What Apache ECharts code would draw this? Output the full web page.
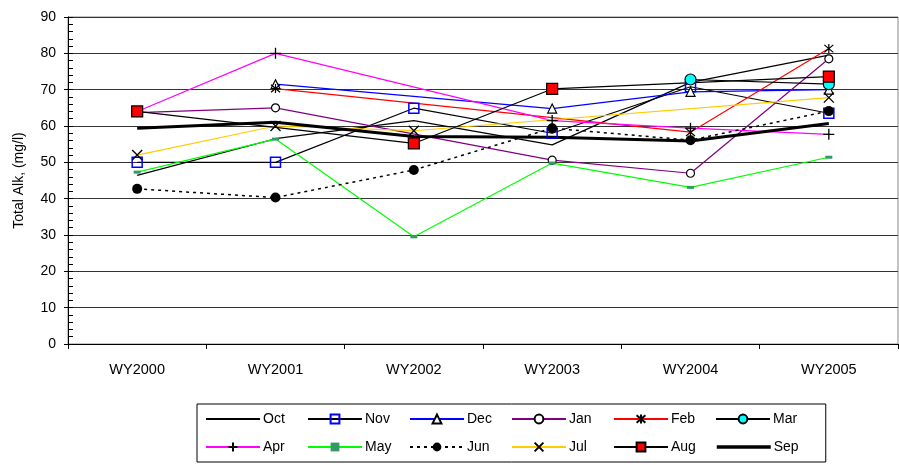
<!DOCTYPE html>
<html>
<head>
<meta charset="utf-8">
<script src="https://cdn.jsdelivr.net/npm/echarts@6/dist/echarts.min.js"></script>
<style>html,body{margin:0;padding:0;background:#fff}#c{width:899px;height:465px}</style>
</head>
<body>
<div id="c"></div>
<script>
const categories = ['WY2000','WY2001','WY2002','WY2003','WY2004','WY2005'];
const yTicks = [0,10,20,30,40,50,60,70,80,90];
const octVals = [46.4, 56.5, 61.5, 54.8, 72.0, 79.5];
const novVals = [50.0, 50.0, 64.9, 58.0, 70.8, 63.5];
const decVals = [null, 71.5, null, 64.8, 69.4, 70.0];
const janVals = [63.7, 65.0, null, 50.6, 47.0, 78.5];
const febVals = [null, 70.3, null, null, 58.3, 81.3];
const marVals = [null, null, null, null, 72.8, 71.5];
const aprVals = [64.0, 80.0, null, 61.5, 59.4, 57.7];
const mayVals = [47.3, 56.4, 29.5, 49.8, 43.1, 51.4];
const junVals = [42.7, 40.3, 47.9, 59.4, 56.1, 64.1];
const julVals = [52.0, 60.0, 58.7, null, null, 67.8];
const augVals = [64.0, null, 55.2, 70.2, null, 73.6];
const sepVals = [59.4, 61.0, 57.1, 56.9, 55.9, 60.7];
const monthNames = ['Oct','Nov','Dec','Jan','Feb','Mar','Apr','May','Jun','Jul','Aug','Sep'];

const FONT = 'Liberation Sans, Arial, sans-serif';
const PLUS = 'path://M5,0L5,10M0,5L10,5';
const CROSS = 'path://M0,0L10,10M10,0L0,10';
const STAR = 'path://M0,0L10,10M10,0L0,10M5,-1L5,11';

function mk(name, data, lineColor, opts) {
  return Object.assign({
    name: name, type: 'line', data: data, connectNulls: true,
    animation: false,
    lineStyle: {color: lineColor, width: 1.2},
    symbol: 'none', showSymbol: true,
    emphasis: {disabled: true}
  }, opts);
}

const series = [
  mk('Oct', octVals, '#000', {symbol: 'none', itemStyle: {color: '#000'}}),
  mk('Nov', novVals, '#000', {symbol: 'rect', symbolSize: 10, itemStyle: {color: 'rgba(255,255,255,0)', borderColor: '#0000FF', borderWidth: 1.5}}),
  mk('Dec', decVals, '#0000FF', {symbol: 'triangle', symbolSize: 9, itemStyle: {color: '#fff', borderColor: '#000', borderWidth: 1.2}}),
  mk('Jan', janVals, '#800080', {symbol: 'circle', symbolSize: 8, itemStyle: {color: '#fff', borderColor: '#000', borderWidth: 1.2}}),
  mk('Feb', febVals, '#FF0000', {symbol: STAR, symbolSize: 9, itemStyle: {color: 'rgba(0,0,0,0)', borderColor: '#000', borderWidth: 1.2}}),
  mk('Mar', marVals, '#000', {symbol: 'circle', symbolSize: 11, itemStyle: {color: '#00FFFF', borderColor: '#000', borderWidth: 1.2}}),
  mk('Apr', aprVals, '#FF00FF', {symbol: PLUS, symbolSize: 11, itemStyle: {color: 'rgba(0,0,0,0)', borderColor: '#000', borderWidth: 1.3}}),
  mk('May', mayVals, '#00FF00', {symbol: 'rect', symbolSize: [7, 3], itemStyle: {color: '#339966', borderWidth: 0}}),
  mk('Jun', junVals, '#000', {symbol: 'circle', symbolSize: 10, lineStyle: {color: '#000', width: 1.5, type: [3, 4]}, itemStyle: {color: '#000', borderWidth: 0}}),
  mk('Jul', julVals, '#FFCC00', {symbol: CROSS, symbolSize: 10, itemStyle: {color: 'rgba(0,0,0,0)', borderColor: '#000', borderWidth: 1.3}}),
  mk('Aug', augVals, '#000', {symbol: 'rect', symbolSize: 11, itemStyle: {color: '#FF0000', borderColor: '#000', borderWidth: 1.2}}),
  mk('Sep', sepVals, '#000', {symbol: 'none', lineStyle: {color: '#000', width: 3}, itemStyle: {color: '#000'}})
];

const legendData = monthNames.map(n => {
  if (n === 'Oct') return {name: n, itemStyle: {opacity: 0}};
  if (n === 'Sep') return {name: n, itemStyle: {opacity: 0}, lineStyle: {width: 3.5, color: '#000'}};
  return {name: n};
});

const chart = echarts.init(document.getElementById('c'), null, {renderer: 'canvas'});
chart.setOption({
  animation: false,
  backgroundColor: '#fff',
  textStyle: {fontFamily: FONT},
  grid: {left: 68, right: 1, top: 17, bottom: 121, show: true, borderColor: '#888', borderWidth: 1},
  xAxis: {
    type: 'category', data: categories, boundaryGap: true,
    axisLine: {lineStyle: {color: '#000', width: 1}},
    axisTick: {show: true, length: 5, lineStyle: {color: '#000'}},
    axisLabel: {color: '#000', fontSize: 14.5, fontFamily: FONT, margin: 18},
    splitLine: {show: false}
  },
  yAxis: [{
    type: 'value', min: 0, max: 90, interval: 10,
    name: 'Total Alk, (mg/l)', nameLocation: 'middle', nameGap: 42,
    nameTextStyle: {color: '#000', fontSize: 14, fontFamily: FONT},
    axisLine: {show: true, lineStyle: {color: '#000'}},
    axisTick: {show: true, inside: true, length: 5, lineStyle: {color: '#000'}},
    minorTick: {show: true, splitNumber: 5, length: 5, lineStyle: {color: '#000'}},
    axisLabel: {color: '#000', fontSize: 14, fontFamily: FONT, margin: 12,
      formatter: v => yTicks.indexOf(v) >= 0 ? String(v) : ''},
    splitLine: {show: true, lineStyle: {color: '#333', width: 1}}
  }, {
    type: 'value', min: 0, max: 90, interval: 10, position: 'left', gridIndex: 0,
    axisLine: {show: false}, axisLabel: {show: false}, splitLine: {show: false},
    axisTick: {show: true, inside: false, length: 4, lineStyle: {color: '#000'}}
  }],
  legend: {
    left: 197, top: 404, width: 629,
    padding: [1, 8, 1, 8],
    itemGap: 0, itemWidth: 54, itemHeight: 11,
    borderColor: '#000', borderWidth: 1,
    textStyle: {color: '#000', fontSize: 14, fontFamily: FONT, width: 44, lineHeight: 28, padding: [0, 0, 0, -2]},
    data: legendData
  },
  series: series
});
</script>
</body>
</html>
